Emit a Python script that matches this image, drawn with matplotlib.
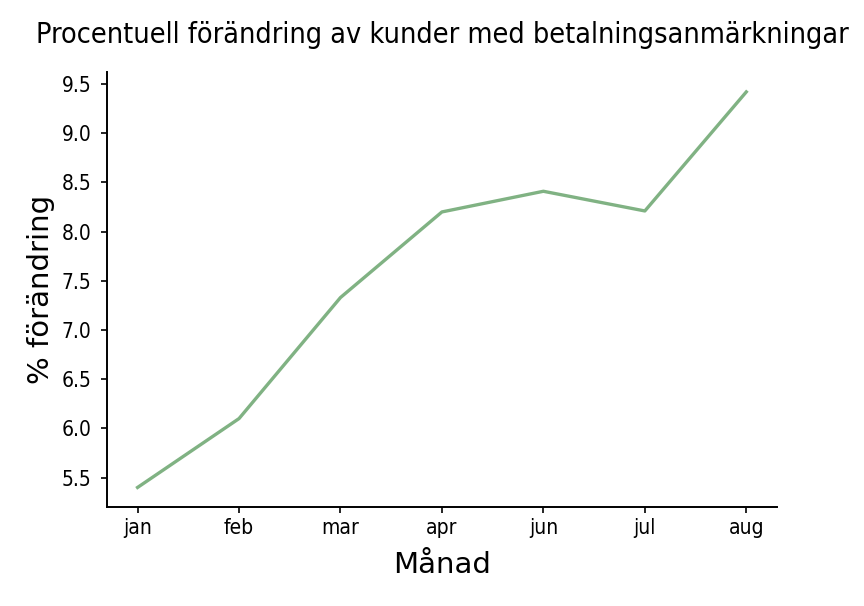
import matplotlib
matplotlib.use('Agg')
import matplotlib.pyplot as plt

months = ['jan', 'feb', 'mar', 'apr', 'jun', 'jul', 'aug']
change = [5.4, 6.1, 7.33, 8.2, 8.41, 8.21, 9.42]

plt.rcParams['font.family'] = ['DejaVu Sans']
plt.rcParams['font.stretch'] = 'condensed'

fig = plt.figure(figsize=(8.64, 6.06), dpi=100)
ax = fig.add_axes([0.124, 0.163, 0.775, 0.718])

ax.plot(months, change, color='#80b283', linewidth=2.4)

ax.set_title('Procentuell förändring av kunder med betalningsanmärkningar',
             fontsize=20.6, pad=21)
ax.set_xlabel('Månad', fontsize=21, fontstretch='normal', labelpad=9)
ax.set_ylabel('% förändring', fontsize=21, fontstretch='normal', labelpad=5)
ax.tick_params(labelsize=15, width=1.2, length=4.6)
ax.tick_params(axis='y', pad=6.5)

for side in ['top', 'right']:
    ax.spines[side].set_visible(False)
for side in ['left', 'bottom']:
    ax.spines[side].set_linewidth(1.4)

fig.savefig('out.png', dpi=100)
